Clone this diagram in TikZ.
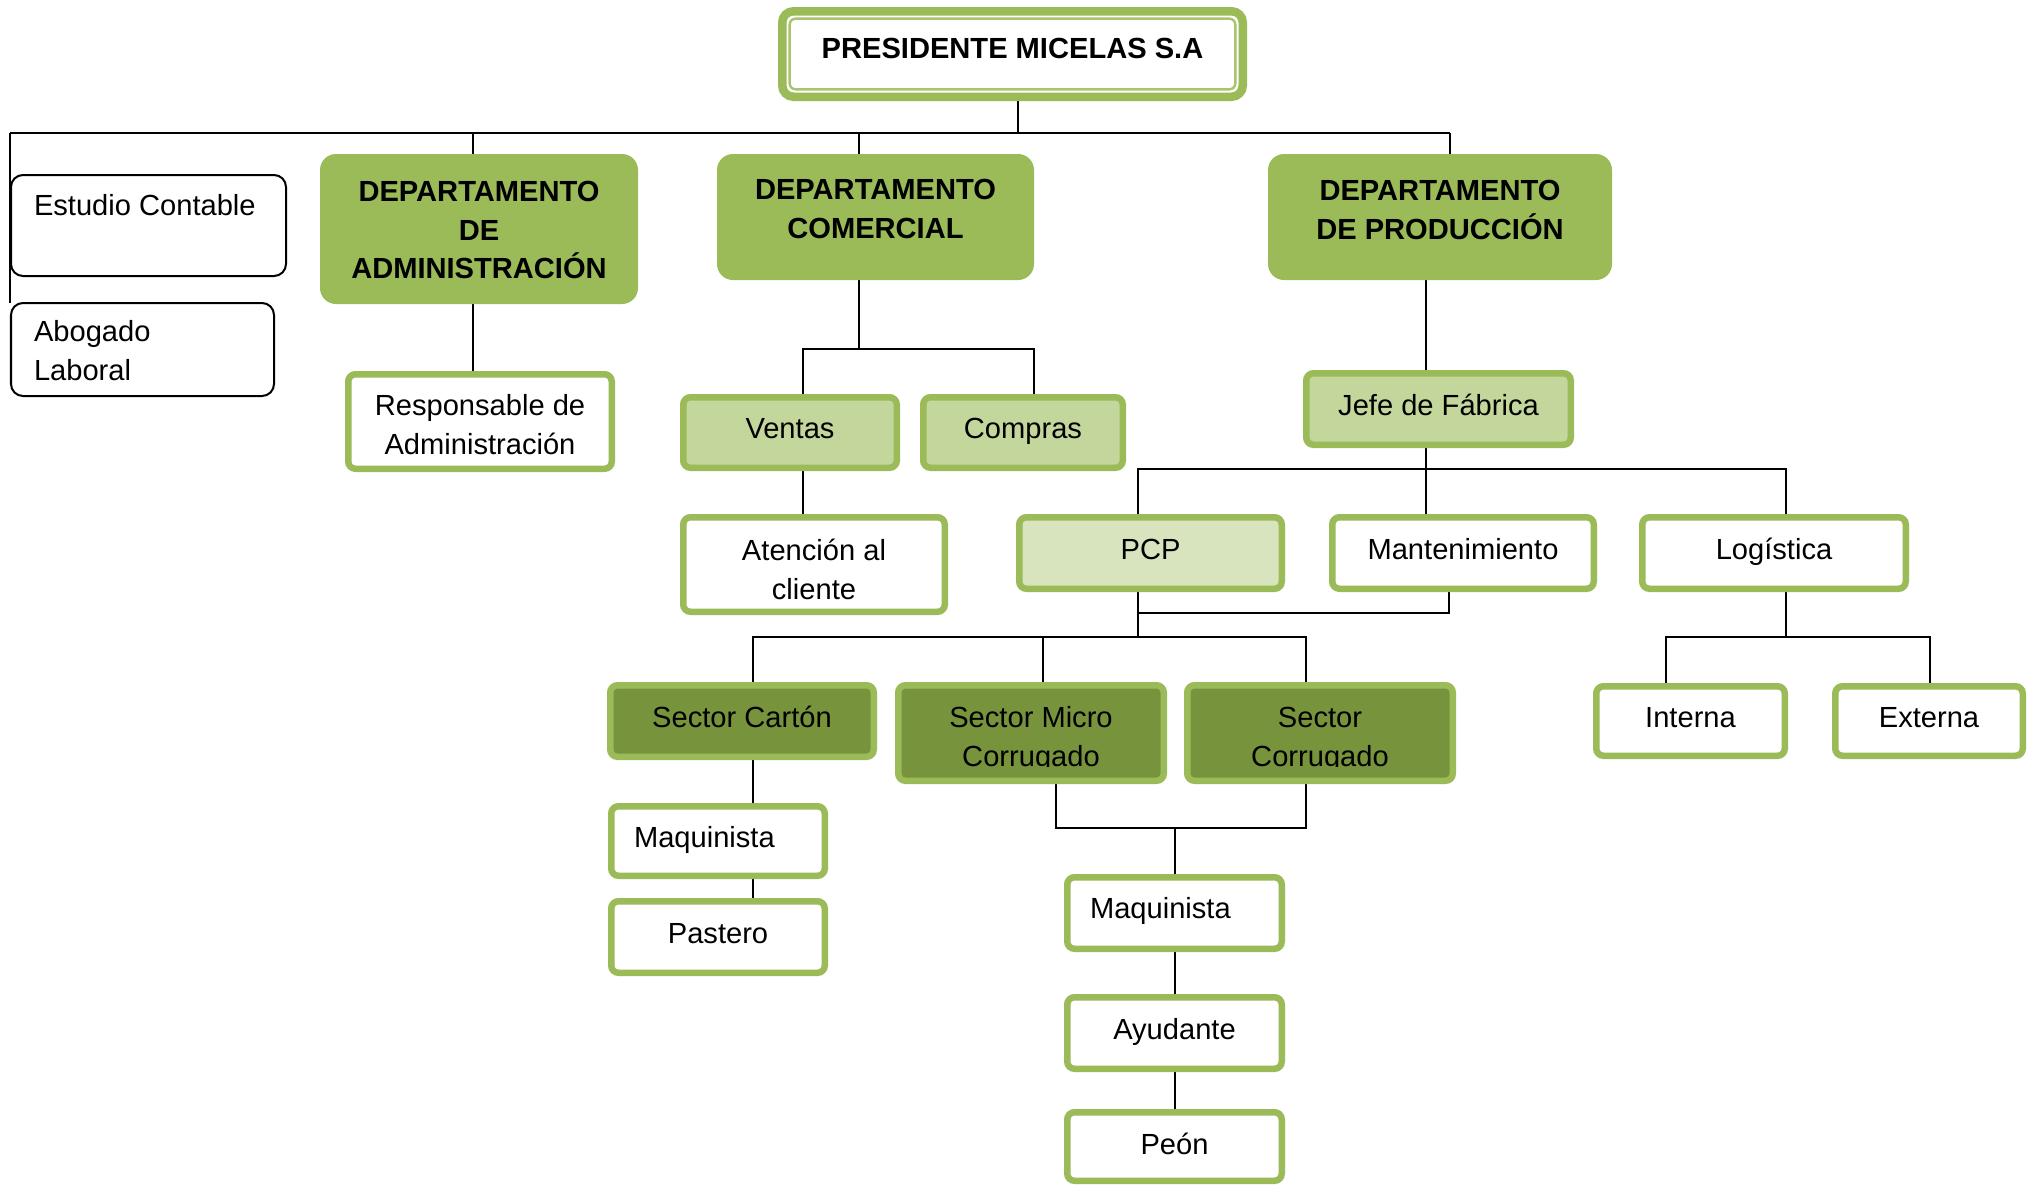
\documentclass[tikz,border=0pt]{standalone}
\usepackage{fontspec}
\setmainfont{Liberation Sans}
\usetikzlibrary{backgrounds,calc}
\definecolor{grn}{HTML}{9BBB59}
\definecolor{grndark}{HTML}{77933C}
\definecolor{grnlight}{HTML}{C3D69B}
\definecolor{grnpale}{HTML}{D7E4BD}
\definecolor{grnline}{HTML}{A9C46C}

% \orgbox{name}{style}{border width in px}{x1}{y1}{x2}{y2}: box given by its outer edges
\newcommand\orgbox[7]{%
  \node[#2, minimum width={(#6-#4-#3)*0.025cm}, minimum height={(#7-#5-#3)*0.025cm}]
    (#1) at ({(#4+#6)/2},{(#5+#7)/2}) {};}

\begin{document}
\begin{tikzpicture}[x=0.025cm,y=-0.025cm,
  box/.style={rectangle, inner sep=0pt, outer sep=0pt},
  presbox/.style={box, draw=grn, line width=0.2125cm, rounded corners=0.28cm, fill=white},
  deptbox/.style={box, fill=grn, rounded corners=0.4cm},
  gbox/.style={box, draw=grn, line width=0.1625cm, rounded corners=0.18cm, fill=white},
  lightbox/.style={gbox, fill=grnlight},
  palebox/.style={gbox, fill=grnpale},
  darkbox/.style={gbox, fill=grndark},
  plainbox/.style={box, draw=black, line width=0.05cm, rounded corners=0.3cm, fill=white},
  lbl/.style={inner sep=0pt, outer sep=0pt, font=\fontsize{20.7}{27.7}\selectfont},
  blbl/.style={lbl, font=\fontsize{20.7}{27.7}\selectfont\bfseries},
  one/.style={lbl, text height=14.8pt, text depth=0pt},
  many/.style={lbl, align=center},
  conn/.style={line width=0.055cm, draw=black},
]
\useasboundingbox (0,0) rectangle (2032,1185);

% ---------- boxes ----------
\orgbox{pres}{presbox}{8.5}{778}{7}{1247}{101}
\draw[grnline, line width=0.06cm, rounded corners=0.15cm]
  ($(pres.north west)+(7.4,7.4)$) rectangle ($(pres.south east)+(-7.4,-7.4)$);

\orgbox{estudio}{plainbox}{2}{10}{174}{287}{277}
\orgbox{abog}{plainbox}{2}{10}{302}{275}{397}

\orgbox{adm}{deptbox}{0}{320}{154}{638}{304}
\orgbox{com}{deptbox}{0}{717}{154}{1034}{280}
\orgbox{prod}{deptbox}{0}{1268}{154}{1612}{280}

\orgbox{resp}{gbox}{6.5}{345}{371}{615}{472}
\orgbox{ventas}{lightbox}{6.5}{680}{394}{900}{471}
\orgbox{compras}{lightbox}{6.5}{920}{394}{1126}{471}
\orgbox{aten}{gbox}{6.5}{680}{514}{948}{615}
\orgbox{jefe}{lightbox}{6.5}{1303}{370}{1574}{448}

\orgbox{pcp}{palebox}{6.5}{1016}{514}{1285}{592}
\orgbox{mant}{gbox}{6.5}{1329}{514}{1597}{592}
\orgbox{logi}{gbox}{6.5}{1639}{514}{1909}{592}

\orgbox{carton}{darkbox}{6.5}{607}{682}{877}{760}
\orgbox{micro}{darkbox}{6.5}{895}{682}{1167}{784}
\orgbox{corr}{darkbox}{6.5}{1184}{682}{1456}{784}
\orgbox{interna}{gbox}{6.5}{1593}{683}{1788}{759}
\orgbox{externa}{gbox}{6.5}{1832}{683}{2026}{759}

\orgbox{maqA}{gbox}{6.5}{608}{803}{828}{879}
\orgbox{pastero}{gbox}{6.5}{608}{898}{828}{976}
\orgbox{maqB}{gbox}{6.5}{1064}{874}{1285}{952}
\orgbox{ayud}{gbox}{6.5}{1064}{994}{1285}{1072}
\orgbox{peon}{gbox}{6.5}{1064}{1109}{1285}{1184}

% ---------- texts ----------
\node[one, blbl, text height=14.8pt, text depth=0pt] (presT) at (1012.5,48) {PRESIDENTE MICELAS S.A};

\node[one, anchor=west] (estudioT) at (34,205) {Estudio Contable};
\node[lbl, align=left, anchor=west] (abogT) at (34,350.5) {Abogado\\Laboral};

\node[blbl, align=center] (admT) at (479,230) {DEPARTAMENTO\\DE\\ADMINISTRACIÓN};
\node[blbl, align=center] (comT) at (875.5,209) {DEPARTAMENTO\\COMERCIAL};
\node[blbl, align=center] (prodT) at (1440,209.5) {DEPARTAMENTO\\DE PRODUCCIÓN};

\node[many] (respT) at (480,424.5) {Responsable de\\Administración};
\node[one] (ventasT) at (790,428) {Ventas};
\node[one] (comprasT) at (1023,428) {Compras};
\node[many] (atenT) at (814,569) {Atención al\\cliente};
\node[one] (jefeT) at (1438.5,405) {Jefe de Fábrica};

\node[one] (pcpT) at (1150.5,549) {PCP};
\node[one] (mantT) at (1463,549) {Mantenimiento};
\node[one] (logiT) at (1774,549) {Logística};

\node[one] (cartonT) at (742,717) {Sector Cartón};
\begin{scope}
  \clip (895,688) rectangle (1456,766);
  \node[many] (microT) at (1031,739.5) {Sector Micro\\Corrugado};
  \node[many] (corrT) at (1320,739.5) {Sector\\Corrugado};
\end{scope}
\node[one] (internaT) at (1690.5,717) {Interna};
\node[one] (externaT) at (1929,717) {Externa};

\node[one, anchor=west] (maqAT) at (634,837) {Maquinista};
\node[one] (pasteroT) at (718,933) {Pastero};
\node[one, anchor=west] (maqBT) at (1090,908) {Maquinista};
\node[one] (ayudT) at (1174.5,1029) {Ayudante};
\node[one] (peonT) at (1174.5,1144) {Peón};

% ---------- connectors (drawn under the boxes) ----------
\begin{scope}[on background layer]
  \fill[white] (0,0) rectangle (2032,1185);
  % top level bus
  \coordinate (bL) at (10,133);
  \coordinate (bP) at (1018,133);
  \coordinate (bA) at (473,133);
  \coordinate (bC) at (859,133);
  \coordinate (bR) at (1450,133);
  \draw[conn] (bP |- pres.south) -- (bP);
  \draw[conn] (bL) -- (bR);
  \draw[conn] (bL) -- (bL |- abog.north);
  \draw[conn] (bA) -- (bA |- adm.north);
  \draw[conn] (bC) -- (bC |- com.north);
  \draw[conn] (bR) -- (bR |- prod.north);
  % administration
  \draw[conn] (bA |- adm.south) -- (bA |- resp.north);
  % commercial
  \coordinate (cM) at (859,349);
  \coordinate (cV) at (803,349);
  \coordinate (cC) at (1034,349);
  \draw[conn] (cM |- com.south) -- (cM);
  \draw[conn] (cV |- ventas.north) -- (cV) -- (cC) -- (cC |- compras.north);
  \draw[conn] (cV |- ventas.south) -- (cV |- aten.north);
  % production
  \coordinate (jM) at (1426,469);
  \coordinate (jP) at (1138,469);
  \coordinate (jL) at (1786,469);
  \draw[conn] (jM |- prod.south) -- (jM |- jefe.north);
  \draw[conn] (jM |- jefe.south) -- (jM |- mant.north);
  \draw[conn] (jP |- pcp.north) -- (jP) -- (jL) -- (jL |- logi.north);
  \coordinate (mB) at (1449,613);
  \draw[conn] (mB |- mant.south) -- (mB) -- (jP |- mB);
  % sectors
  \coordinate (sP) at (1138,637);
  \coordinate (sA) at (753,637);
  \coordinate (sB) at (1043,637);
  \coordinate (sC) at (1306,637);
  \draw[conn] (sP |- pcp.south) -- (sP);
  \draw[conn] (sA |- carton.north) -- (sA) -- (sC) -- (sC |- corr.north);
  \draw[conn] (sB) -- (sB |- micro.north);
  % logistics
  \coordinate (lM) at (1786,637);
  \coordinate (lI) at (1666,637);
  \coordinate (lE) at (1930,637);
  \draw[conn] (lM |- logi.south) -- (lM);
  \draw[conn] (lI |- interna.north) -- (lI) -- (lE) -- (lE |- externa.north);
  % cardboard sector staff
  \draw[conn] (sA |- carton.south) -- (sA |- maqA.north);
  \draw[conn] (sA |- maqA.south) -- (sA |- pastero.north);
  % corrugated sectors staff
  \coordinate (kA) at (1056,828);
  \coordinate (kB) at (1306,828);
  \coordinate (kM) at (1175,828);
  \draw[conn] (kA |- micro.south) -- (kA) -- (kB) -- (kB |- corr.south);
  \draw[conn] (kM) -- (kM |- maqB.north);
  \draw[conn] (kM |- maqB.south) -- (kM |- ayud.north);
  \draw[conn] (kM |- ayud.south) -- (kM |- peon.north);
\end{scope}
\end{tikzpicture}
\end{document}
